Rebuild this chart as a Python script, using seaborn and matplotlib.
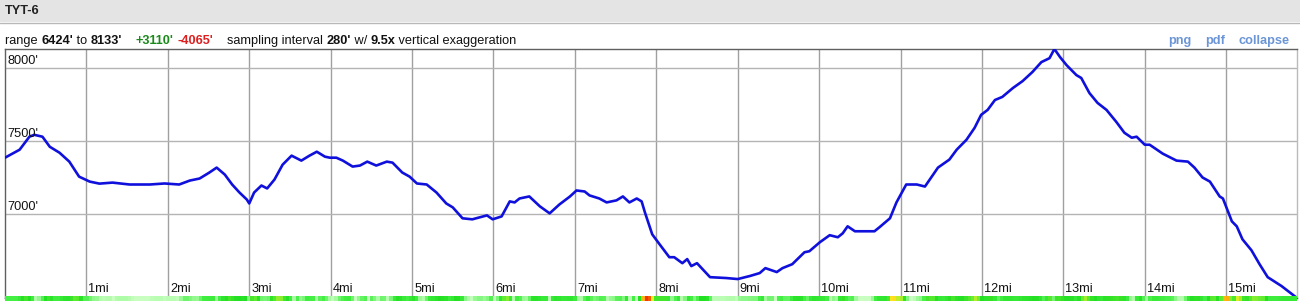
import numpy as np
import pandas as pd
import matplotlib
matplotlib.use("Agg")
import matplotlib.pyplot as plt
from matplotlib.patches import Rectangle
from matplotlib.colors import LinearSegmentedColormap
import seaborn as sns

# ---------------- data ----------------
title = "TYT-6"
miles = [0.00, 0.18, 0.30, 0.36, 0.46, 0.55, 0.67, 0.79, 0.91, 1.04, 1.16, 1.32, 1.53, 1.78, 1.96,
         2.14, 2.27, 2.39, 2.51, 2.60, 2.70, 2.79, 2.88, 2.97, 3.00, 3.06, 3.15, 3.22, 3.31, 3.41,
         3.52, 3.64, 3.74, 3.83, 3.93, 3.99, 4.07, 4.15, 4.27, 4.36, 4.45, 4.56, 4.69, 4.76, 4.88,
         4.97, 5.06, 5.18, 5.30, 5.42, 5.50, 5.62, 5.74, 5.92, 5.99, 6.10, 6.20, 6.26, 6.32, 6.44,
         6.57, 6.69, 6.81, 6.94, 7.02, 7.12, 7.18, 7.30, 7.39, 7.51, 7.59, 7.67, 7.76, 7.82, 7.86,
         7.95, 8.04, 8.16, 8.22, 8.32, 8.38, 8.43, 8.50, 8.66, 8.86, 9.00, 9.15, 9.27, 9.34, 9.48,
         9.55, 9.67, 9.82, 9.88, 10.01, 10.13, 10.23, 10.29, 10.35, 10.44, 10.58, 10.68, 10.74, 10.87,
         10.95, 11.07, 11.20, 11.30, 11.46, 11.60, 11.69, 11.81, 11.91, 11.99, 12.07, 12.16, 12.25,
         12.38, 12.50, 12.62, 12.73, 12.83, 12.89, 12.96, 13.04, 13.16, 13.22, 13.32, 13.42, 13.53,
         13.65, 13.75, 13.84, 13.90, 14.00, 14.06, 14.22, 14.39, 14.53, 14.61, 14.71, 14.80, 14.92,
         14.96, 15.07, 15.13, 15.20, 15.31, 15.41, 15.51, 15.68, 15.87]
elev_ft = [7387, 7442, 7531, 7544, 7531, 7462, 7421, 7360, 7257, 7223, 7209, 7216, 7203, 7203, 7210,
           7203, 7230, 7244, 7285, 7319, 7271, 7203, 7148, 7100, 7073, 7148, 7196, 7176, 7237, 7339,
           7401, 7367, 7401, 7428, 7394, 7387, 7387, 7367, 7326, 7333, 7360, 7333, 7360, 7353, 7285,
           7257, 7210, 7203, 7148, 7073, 7046, 6971, 6964, 6991, 6964, 6984, 7087, 7080, 7107, 7121,
           7053, 7005, 7066, 7121, 7162, 7155, 7128, 7107, 7080, 7094, 7121, 7080, 7107, 7087, 7012,
           6861, 6793, 6704, 6704, 6663, 6691, 6643, 6663, 6567, 6561, 6554, 6575, 6595, 6629, 6602,
           6629, 6656, 6738, 6745, 6807, 6855, 6841, 6868, 6916, 6882, 6882, 6882, 6909, 6971,
           7080, 7203, 7203, 7189, 7319, 7374, 7442, 7510, 7592, 7681, 7715, 7783, 7804,
           7865, 7913, 7975, 8043, 8070, 8133, 8077, 8022, 7954, 7934, 7831, 7763, 7715,
           7633, 7558, 7524, 7531, 7476, 7476, 7415, 7367, 7360, 7319, 7251, 7223, 7121,
           7107, 6950, 6916, 6827, 6752, 6656, 6567, 6506, 6424]
y_ticks = [7000, 7500, 8000]
y_tick_labels = ["7000'", "7500'", "8000'"]
x_ticks = list(range(1, 16))
x_tick_labels = [f"{m}mi" for m in x_ticks]
range_min, range_max = 6424, 8133
gain, loss = "+3110'", "-4065'"
sampling, exaggeration = "280'", "9.5x"
links = ["png", "pdf", "collapse"]

df = pd.DataFrame({"mile": miles, "elev": elev_ft})

# ---------------- figure ----------------
W, H = 1300, 301
sns.set_style("white")
plt.rcParams["font.family"] = ["Liberation Sans", "DejaVu Sans"]
fig = plt.figure(figsize=(W / 100, H / 100), dpi=100)
FS = 9.2


def fx(x):
    return x / W


def fy(y):
    return 1 - y / H


# header bar
fig.patches.append(Rectangle((0, fy(22)), 1, 22 / H, transform=fig.transFigure,
                             facecolor="#e4e4e4", edgecolor="none", zorder=0))
fig.lines.append(plt.Line2D([0, 1], [fy(22.5), fy(22.5)], transform=fig.transFigure,
                            color="#b8b8b8", lw=1))
fig.text(fx(5), fy(11), title, fontsize=FS, fontweight="bold", color="#222222", va="center", ha="left")

# main axes
left, right, top, bottom = 5, 1297, 49, 298
ax = fig.add_axes([fx(left), fy(bottom), (right - left) / W, (bottom - top) / H])
sns.lineplot(data=df, x="mile", y="elev", ax=ax, color="#1010dd", lw=1.9, zorder=3)
ax.set_xlim(0, 15.87)
ax.set_ylim(range_min, range_max)
for m in x_ticks:
    ax.axvline(m, color="#a0a0a0", lw=1, zorder=1)
for t in y_ticks:
    ax.axhline(t, color="#b4b4b4", lw=1, zorder=1)
ax.set_xticks([])
ax.set_yticks([])
ax.set_xlabel("")
ax.set_ylabel("")
for s in ax.spines.values():
    s.set_color("#606060")
    s.set_linewidth(1)
ax.spines["right"].set_color("#bbbbbb")

# tick labels inside plot
for t, lab in zip(y_ticks, y_tick_labels):
    ax.annotate(lab, xy=(0, t), xycoords=("axes fraction", "data"), xytext=(2, 1),
                textcoords="offset points", fontsize=FS, va="bottom", ha="left", color="#111111")
for m, lab in zip(x_ticks, x_tick_labels):
    ax.annotate(lab, xy=(m, 0), xycoords=("data", "axes fraction"), xytext=(1.5, 2),
                textcoords="offset points", fontsize=FS, va="bottom", ha="left", color="#111111")

# slope strip at bottom
sax = fig.add_axes([fx(left), 0, (right - left) / W, fy(296)])
grid = np.linspace(0, 15.87, 400)
interp = np.interp(grid, miles, elev_ft)
slope = np.abs(np.gradient(interp, grid)) / 5280.0
cmap = LinearSegmentedColormap.from_list(
    "slope", ["#c8ffc0", "#44f044", "#22e022", "#66ee33", "#ffee22", "#ff8800", "#ee2200"])
sax.imshow(slope[None, :], aspect="auto", cmap=cmap, vmin=0, vmax=0.34, extent=(0, 15.87, 0, 1))
sax.set_axis_off()

# header text line
fig.canvas.draw()
renderer = fig.canvas.get_renderer()
pieces = [("range ", "normal", "#111111"), (f"{range_min}'", "bold", "#111111"),
          (" to ", "normal", "#111111"), (f"{range_max}'", "bold", "#111111"),
          ("    ", "normal", "#111111"), (gain, "bold", "#1a8a1a"), (" ", "normal", "#111111"),
          (loss, "bold", "#dd2020"), ("    sampling interval ", "normal", "#111111"),
          (sampling, "bold", "#111111"), (" w/ ", "normal", "#111111"),
          (exaggeration, "bold", "#111111"), (" vertical exaggeration", "normal", "#111111")]
xpos = 5
for txt, wt, col in pieces:
    t = fig.text(fx(xpos), fy(41), txt, fontsize=FS, fontweight=wt, color=col, va="center", ha="left")
    bb = t.get_window_extent(renderer)
    xpos += bb.width

# right-side links
lx = 1290
for lab in reversed(links):
    t = fig.text(fx(lx), fy(41), lab, fontsize=FS, fontweight="bold", color="#6b95d6", va="center", ha="right")
    bb = t.get_window_extent(renderer)
    lx -= bb.width + 14

fig.savefig("out.png", dpi=100)
